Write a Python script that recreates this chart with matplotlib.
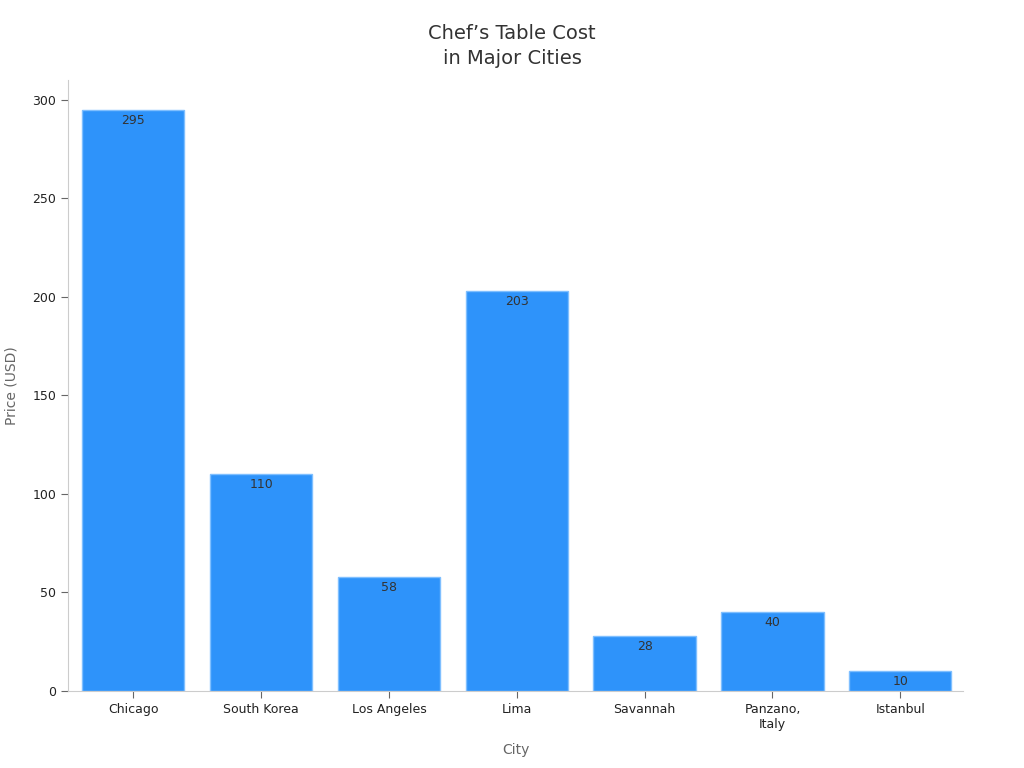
import matplotlib
matplotlib.use('Agg')
import matplotlib.pyplot as plt

# Données du graphique
cities = ['Chicago', 'South Korea', 'Los Angeles', 'Lima', 'Savannah', 'Panzano,\nItaly', 'Istanbul']
prices = [295, 110, 58, 203, 28, 40, 10]

plt.rcParams['font.family'] = ['DejaVu Sans']

fig = plt.figure(figsize=(10.24, 7.68), dpi=100)
ax = fig.add_axes([0.0664, 0.1003, 0.874, 0.7955])

x = range(len(cities))
bars = ax.bar(x, prices, width=0.8, color='#2E93FA', edgecolor='#7fbfff', linewidth=1)

# Valores dentro das barras
for b, v in zip(bars, prices):
    ax.text(b.get_x() + b.get_width() / 2, v - 2, str(v), ha='center', va='top',
            fontsize=9, color='#333333')

ax.set_xlim(-0.51, 6.49)
ax.set_ylim(0, 310)
ax.set_xticks(list(x))
ax.set_xticklabels(cities)
ax.set_yticks([0, 50, 100, 150, 200, 250, 300])

for s in ['top', 'right']:
    ax.spines[s].set_visible(False)
for s in ['left', 'bottom']:
    ax.spines[s].set_color('#cccccc')
ax.tick_params(axis='both', colors='#666666', labelcolor='#222222', labelsize=9, length=5)

ax.set_xlabel('City', fontsize=10, color='#666666', labelpad=9)
ax.set_ylabel('Price (USD)', fontsize=10, color='#666666', labelpad=10)

fig.text(0.5, 0.94, 'Chef\u2019s Table Cost\nin Major Cities', ha='center', va='center',
         fontsize=14, color='#333333', linespacing=1.4)

fig.savefig('out.png', dpi=100)
